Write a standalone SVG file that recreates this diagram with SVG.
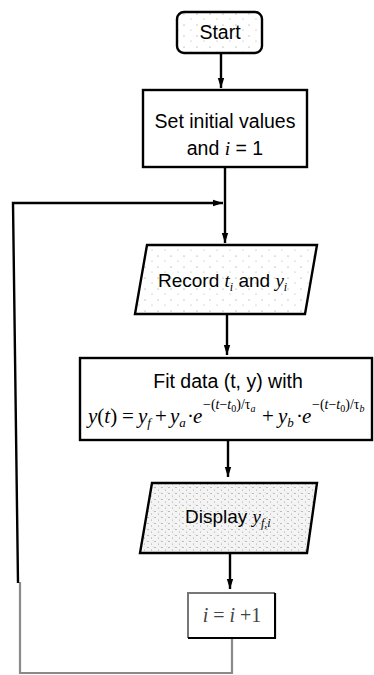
<svg xmlns="http://www.w3.org/2000/svg" width="374" height="675" viewBox="0 0 374 675">
  <defs>
    <style>
      .box { fill: #fff; stroke: #000; stroke-width: 2.4; }
      .sans { font-family: "Liberation Sans", Arial, sans-serif; fill: #000; }
      .serif { font-family: "Liberation Serif", "Times New Roman", serif; fill: #000; }
      .it { font-style: italic; }
      .link { fill: none; stroke: #000; stroke-width: 2.4; }
      .faded { fill: none; stroke: #8a8a8a; stroke-width: 2.2; }
    </style>
    <marker id="head" markerWidth="10" markerHeight="8" refX="10" refY="4" orient="auto" markerUnits="userSpaceOnUse">
      <path d="M0,0.8 L10,4 L0,7.2 Z" fill="#000"/>
    </marker>
    <!-- sparse print speckle -->
    <pattern id="speckle" width="13" height="11" patternUnits="userSpaceOnUse">
      <rect width="13" height="11" fill="#fff"/>
      <circle cx="2" cy="3" r="0.6" fill="#888"/>
      <circle cx="9" cy="8" r="0.5" fill="#999"/>
    </pattern>
    <!-- dense print speckle -->
    <pattern id="grain" width="7" height="6" patternUnits="userSpaceOnUse">
      <rect width="7" height="6" fill="#f4f4f4"/>
      <circle cx="1" cy="1.5" r="0.6" fill="#777"/>
      <circle cx="4.5" cy="4" r="0.55" fill="#999"/>
      <circle cx="6" cy="0.8" r="0.4" fill="#aaa"/>
    </pattern>
  </defs>

  <!-- connectors -->
  <g id="connectors">
    <path class="link" d="M221,53 V88" marker-end="url(#head)"/>
    <path class="link" d="M225,167 V243" marker-end="url(#head)"/>
    <path class="link" d="M227,314 V355" marker-end="url(#head)"/>
    <path class="link" d="M228,440 V477" marker-end="url(#head)"/>
    <path class="link" d="M230,553 V589" marker-end="url(#head)"/>
    <!-- loop back from the counter to the recording step -->
    <path class="faded" d="M232,638 V673 H20 V582"/>
    <path class="link" d="M18,583 L13,203 H223" marker-end="url(#head)"/>
  </g>

  <g id="start">
    <rect class="box" x="177" y="12" width="85" height="41" rx="7" style="fill:url(#speckle)"/>
    <text class="sans" x="220" y="39" font-size="19.5" text-anchor="middle">Start</text>
  </g>

  <g id="init">
    <rect class="box" x="143" y="90" width="164" height="77"/>
    <text class="sans" x="225" y="128" font-size="19.5" text-anchor="middle">Set initial values</text>
    <text class="sans" x="225" y="155" font-size="19.5" text-anchor="middle">and <tspan class="serif it">i</tspan> = 1</text>
  </g>

  <g id="record">
    <path class="box" d="M147,245 H317 L305,314 H135 Z" style="fill:url(#speckle)"/>
    <text class="sans" x="158" y="287" font-size="19">Record <tspan class="serif it">t</tspan><tspan class="serif it" font-size="12" dy="4">i</tspan><tspan dy="-4"> and </tspan><tspan class="serif it">y</tspan><tspan class="serif it" font-size="12" dy="4">i</tspan></text>
  </g>

  <g id="fit">
    <rect class="box" x="80" y="358" width="292" height="82"/>
    <text class="sans" x="228" y="388" font-size="19.5" text-anchor="middle">Fit data (t, y) with</text>
    <g class="serif" font-size="21">
      <text x="88" y="423"><tspan class="it">y</tspan>(<tspan class="it">t</tspan>)</text>
      <text x="122" y="423">=</text>
      <text x="138" y="423" class="it">y<tspan font-size="13" dy="4">f</tspan></text>
      <text x="155" y="423">+</text>
      <text x="170" y="423" class="it">y<tspan font-size="13" dy="4">a</tspan></text>
      <text x="187" y="423">·</text>
      <text x="193" y="423" class="it">e</text>
      <text x="203" y="409" font-size="14">−(<tspan class="it">t</tspan>−<tspan class="it">t</tspan><tspan font-size="10" dy="3">0</tspan><tspan dy="-3">)/τ</tspan><tspan class="it" font-size="10" dy="3">a</tspan></text>
      <text x="262" y="423">+</text>
      <text x="278" y="423" class="it">y<tspan font-size="13" dy="4">b</tspan></text>
      <text x="296" y="423">·</text>
      <text x="302" y="423" class="it">e</text>
      <text x="312" y="409" font-size="14">−(<tspan class="it">t</tspan>−<tspan class="it">t</tspan><tspan font-size="10" dy="3">0</tspan><tspan dy="-3">)/τ</tspan><tspan class="it" font-size="10" dy="3">b</tspan></text>
    </g>
  </g>

  <g id="display">
    <path class="box" d="M152,483 H317 L307,553 H140 Z" style="fill:url(#grain)"/>
    <text class="sans" x="185" y="523" font-size="19">Display <tspan class="serif it">y</tspan><tspan class="serif it" font-size="12" dy="4">f,i</tspan></text>
  </g>

  <g id="increment">
    <path d="M188,638 V593 H275" fill="none" stroke="#777" stroke-width="2"/>
    <path d="M275,593 V638 H188" fill="none" stroke="#000" stroke-width="2.2"/>
    <rect x="189" y="594" width="85" height="43" fill="#fff"/>
    <text class="serif" x="232" y="622" font-size="20" text-anchor="middle" style="fill:#444"><tspan class="it">i</tspan> = <tspan class="it">i</tspan> +1</text>
  </g>
</svg>
